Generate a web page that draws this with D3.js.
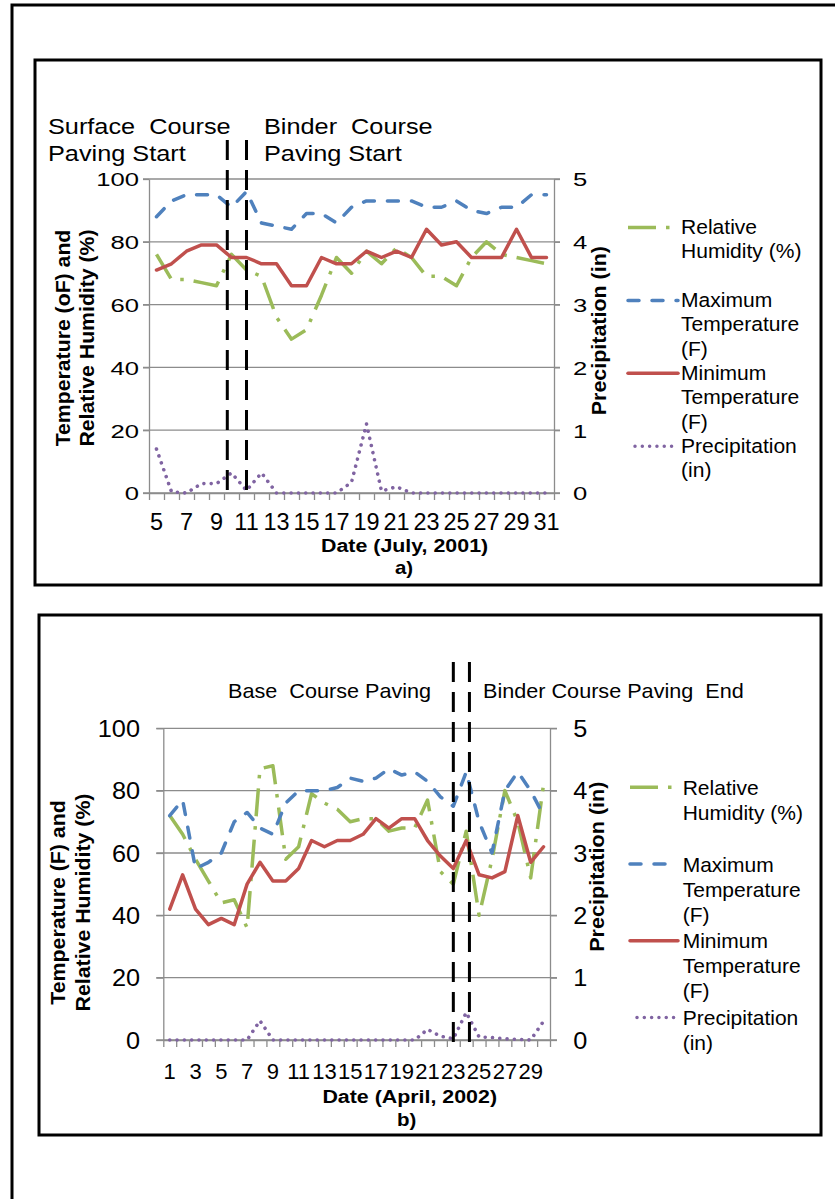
<!DOCTYPE html>
<html>
<head>
<meta charset="utf-8">
<script src="https://cdn.jsdelivr.net/npm/d3@7"></script>
<style>
  body { margin: 0; background: #fff; }
  svg { display: block; }
  text { white-space: pre; }
</style>
</head>
<body>
<svg id="fig" width="835" height="1199"></svg>
<script>
// ---------- July 2001 (surface / binder course) ----------
const julyDays = [5, 6, 7, 8, 9, 10, 11, 12, 13, 14, 15, 16, 17, 18, 19, 20, 21, 22, 23, 24, 25, 26, 27, 28, 29, 30, 31];
const julyHumidity = [76, 68, 68, 67, 66, 76, 71, 69, 56, 49, 52, 63, 75, 70, 77, 73, 78, 75, 69, 69, 66, 75, 80, 76, 75, 74, 73];
const julyMaxTemp  = [88, 93, 95, 95, 95, 91, 96, 86, 85, 84, 89, 89, 86, 91, 93, 93, 93, 93, 91, 91, 93, 90, 89, 91, 91, 95, 95];
const julyMinTemp  = [71, 73, 77, 79, 79, 75, 75, 73, 73, 66, 66, 75, 73, 73, 77, 75, 77, 75, 84, 79, 80, 75, 75, 75, 84, 75, 75];
const julyPrecip   = [0.70, 0.02, 0, 0.15, 0.15, 0.32, 0.04, 0.32, 0, 0, 0, 0, 0, 0.17, 1.1, 0.03, 0.1, 0, 0, 0, 0, 0, 0, 0, 0, 0, 0];
const julyMarkers  = [9.72, 11];
const julyTickDays = [5, 7, 9, 11, 13, 15, 17, 19, 21, 23, 25, 27, 29, 31];
const julyNotes    = [["Surface  Course", "Paving Start"], ["Binder  Course", "Paving Start"]];

// ---------- April 2002 (base / binder course) ----------
const aprilDays = [1, 2, 3, 4, 5, 6, 7, 8, 9, 10, 11, 12, 13, 14, 15, 16, 17, 18, 19, 20, 21, 22, 23, 24, 25, 26, 27, 28, 29, 30];
const aprilHumidity = [72, 66, 58, 51, 44, 45, 36, 87, 88, 58, 62, 79, 76, 74, 70, 71, 71, 67, 68, 68, 77, 54, 50, 67, 40, 58, 80, 70, 52, 82];
const aprilMaxTemp  = [72, 77, 55, 57, 60, 70, 73, 68, 66, 76, 80, 80, 80, 81, 84, 83, 84, 87, 85, 86, 83, 78, 75, 86, 70, 60, 80, 86, 80, 72];
const aprilMinTemp  = [42, 53, 42, 37, 39, 37, 50, 57, 51, 51, 55, 64, 62, 64, 64, 66, 71, 68, 71, 71, 64, 59, 55, 64, 53, 52, 54, 72, 57, 62];
const aprilPrecip   = [0, 0, 0, 0, 0, 0, 0, 0.31, 0, 0, 0, 0, 0, 0, 0, 0, 0, 0, 0, 0, 0.17, 0.06, 0.02, 0.44, 0.05, 0.04, 0.02, 0.01, 0, 0.3];
const aprilMarkers  = [23, 24.25];
const aprilTickDays = [1, 3, 5, 7, 9, 11, 13, 15, 17, 19, 21, 23, 25, 27, 29];
const aprilNotes    = [["Base  Course Paving"], ["Binder Course Paving  End"]];

// ---------- shared axis ticks and legend ----------
const leftTicks  = [0, 20, 40, 60, 80, 100];
const rightTicks = [0, 1, 2, 3, 4, 5];
const legendLabels = [
  ["Relative", "Humidity (%)"],
  ["Maximum", "Temperature", "(F)"],
  ["Minimum", "Temperature", "(F)"],
  ["Precipitation", "(in)"]
];

const FONT = "'Liberation Sans', Arial, Helvetica, sans-serif";
const GRID = "#8c8c8c";

// line styles: humidity, max temp, min temp, precipitation
const STYLES = [
  { color: "#9bbb59", dash: "28,10,3.5,10", cap: "butt" },
  { color: "#4f81bd", dash: "11,13", cap: "round" },
  { color: "#c0504d", dash: null, cap: "round" },
  { color: "#8064a2", dash: "0.01,7.3", cap: "round" }
];

const svg = d3.select("#fig");

function txt(g, x, y, s, o) {
  o = o || {};
  let tr = `translate(${x},${y})`;
  if (o.rot) tr += ` rotate(${o.rot})`;
  tr += ` scale(${o.sx || 1},1)`;
  return g.append("text")
    .attr("transform", tr)
    .attr("font-family", FONT)
    .attr("font-size", o.size || 20)
    .attr("font-weight", o.bold ? "bold" : null)
    .attr("text-anchor", o.anchor || "start")
    .attr("fill", "#000")
    .text(s);
}

// outer frame
svg.append("rect")
  .attr("x", 12).attr("y", 5).attr("width", 900).attr("height", 1300)
  .attr("fill", "none").attr("stroke", "#000").attr("stroke-width", 3);

function panel(P) {
  const g = svg.append("g");

  g.append("rect")
    .attr("x", P.box[0]).attr("y", P.box[1]).attr("width", P.box[2]).attr("height", P.box[3])
    .attr("fill", "#fff").attr("stroke", "#000").attr("stroke-width", 3);

  const n = P.days.length;
  const x = d3.scaleBand().domain(P.days).range([P.left, P.right]).padding(0);
  const xb = d3.scaleLinear().domain([0, n]).range([P.left, P.right]);
  const y = d3.scaleLinear().domain([0, 100]).range([P.bottom, P.top]);
  const y2 = d3.scaleLinear().domain([0, 5]).range([P.bottom, P.top]);
  const cx = d => x(d) + x.bandwidth() / 2;

  // horizontal gridlines (run across the tick marks on both sides)
  g.append("g").selectAll("line").data(leftTicks).join("line")
    .attr("x1", P.left - P.tick).attr("x2", P.right + P.tick)
    .attr("y1", d => y(d)).attr("y2", d => y(d))
    .attr("stroke", GRID).attr("stroke-width", 1.3);

  // left value axis
  const axL = g.append("g").attr("transform", `translate(${P.left},0)`)
    .call(d3.axisLeft(y).tickValues(leftTicks).tickFormat(d3.format("d")).tickSize(P.tick).tickSizeOuter(0));
  axL.attr("font-family", FONT).attr("font-size", P.yLab.size);
  axL.select(".domain").attr("stroke", GRID).attr("stroke-width", 1.3);
  axL.selectAll(".tick line").attr("stroke", GRID).attr("stroke-width", 1.3);
  axL.selectAll(".tick text").attr("x", 0).attr("dy", null).attr("y", 0)
    .attr("transform", `translate(${-P.yLab.off},${P.yLab.dy}) scale(${P.yLab.sx},1)`);

  // right precipitation axis
  const axR = g.append("g").attr("transform", `translate(${P.right},0)`)
    .call(d3.axisRight(y2).tickValues(rightTicks).tickFormat(d3.format("d")).tickSize(P.tick).tickSizeOuter(0));
  axR.attr("font-family", FONT).attr("font-size", P.yLab.size);
  axR.select(".domain").attr("stroke", GRID).attr("stroke-width", 1.3);
  axR.selectAll(".tick line").attr("stroke", GRID).attr("stroke-width", 1.3);
  axR.selectAll(".tick text").attr("x", 0).attr("dy", null).attr("y", 0)
    .attr("transform", `translate(${P.y2Off},${P.yLab.dy}) scale(${P.yLab.sx},1)`);

  // category axis: tick marks at category boundaries
  const axB = g.append("g").attr("transform", `translate(0,${P.bottom})`)
    .call(d3.axisBottom(xb).tickValues(d3.range(n + 1)).tickFormat(() => "").tickSize(P.xTick).tickSizeOuter(0));
  axB.select(".domain").attr("stroke", GRID).attr("stroke-width", 1.3);
  axB.selectAll(".tick line").attr("stroke", GRID).attr("stroke-width", 1.3);

  // category labels centred in their slots
  const axT = g.append("g").attr("transform", `translate(0,${P.bottom})`)
    .call(d3.axisBottom(x).tickValues(P.tickDays).tickSize(0));
  axT.attr("font-family", FONT).attr("font-size", P.xLab.size);
  axT.select(".domain").remove();
  axT.selectAll(".tick text").attr("dy", null).attr("y", P.xLab.dy)
    .attr("transform", `scale(${P.xLab.sx},1)`);

  // series
  const temps = [P.humidity, P.maxTemp, P.minTemp];
  temps.forEach((vals, i) => {
    const line = d3.line().x((d, j) => cx(P.days[j])).y(d => y(d));
    g.append("path").datum(vals).attr("d", line)
      .attr("fill", "none").attr("stroke", STYLES[i].color).attr("stroke-width", 3.5)
      .attr("stroke-dasharray", STYLES[i].dash).attr("stroke-linecap", STYLES[i].cap)
      .attr("stroke-linejoin", "round");
  });
  const pLine = d3.line().x((d, j) => cx(P.days[j])).y(d => y2(d));
  g.append("path").datum(P.precip).attr("d", pLine)
    .attr("fill", "none").attr("stroke", STYLES[3].color).attr("stroke-width", 3.6)
    .attr("stroke-dasharray", STYLES[3].dash).attr("stroke-linecap", "round");

  // paving start/end markers
  g.append("g").selectAll("line").data(P.markers).join("line")
    .attr("x1", d => xb(d - P.days[0] + 0.5)).attr("x2", d => xb(d - P.days[0] + 0.5))
    .attr("y1", P.markerY[0]).attr("y2", P.markerY[1])
    .attr("stroke", "#000").attr("stroke-width", 3).attr("stroke-dasharray", "20,10");

  // annotations
  P.notes.forEach((lines, i) => {
    lines.forEach((s, j) => txt(g, P.noteX[i], P.noteY + j * P.noteLine, s, { size: P.noteSize, sx: P.noteSx }));
  });

  // axis titles
  txt(g, P.xTitle[0], P.xTitle[1], P.xTitleText, { size: 18.6, bold: true, anchor: "middle", sx: 1.15 });
  txt(g, P.sub[0], P.sub[1], P.subText, { size: 18.6, bold: true, anchor: "middle", sx: 1.1 });
  P.yTitleText.forEach((s, j) =>
    txt(g, P.yTitle.x[j], P.yTitle.cy, s, { size: P.yTitle.size, bold: true, anchor: "middle", rot: -90, sx: P.yTitle.sx }));
  txt(g, P.y2Title.x, P.y2Title.cy, "Precipitation (in)", { size: P.y2Title.size, bold: true, anchor: "middle", rot: -90, sx: P.y2Title.sx });

  // legend
  legendLabels.forEach((lines, i) => {
    const base = P.leg.top + i * P.leg.step;
    const ly = base - P.leg.lineOff;
    const x1 = i === 3 ? P.leg.x1 + 7 : P.leg.x1;
    g.append("line").attr("x1", x1).attr("x2", P.leg.x2).attr("y1", ly).attr("y2", ly)
      .attr("stroke", STYLES[i].color).attr("stroke-width", 3.5)
      .attr("stroke-dasharray", STYLES[i].dash).attr("stroke-linecap", STYLES[i].cap);
    lines.forEach((s, j) => txt(g, P.leg.tx, base + j * P.leg.line, s, { size: P.leg.size, sx: P.leg.sx }));
  });
}

panel({
  box: [35, 60, 786, 525],
  days: julyDays, humidity: julyHumidity, maxTemp: julyMaxTemp, minTemp: julyMinTemp, precip: julyPrecip,
  tickDays: julyTickDays, markers: julyMarkers, markerY: [140, 497],
  left: 149, right: 554, top: 179, bottom: 493, tick: 6, xTick: 7,
  yLab: { size: 19, sx: 1.35, off: 10, dy: 6.8 }, y2Off: 19,
  xLab: { size: 23, sx: 1.02, dy: 37 },
  notes: julyNotes, noteX: [48, 264], noteY: 134, noteLine: 27, noteSize: 22, noteSx: 1.15,
  xTitleText: "Date (July, 2001)", xTitle: [404.6, 552], subText: "a)", sub: [404, 574],
  yTitleText: ["Temperature (oF) and", "Relative Humidity (%)"],
  yTitle: { x: [70, 94], cy: 338, size: 19.5, sx: 1.09 },
  y2Title: { x: 606, cy: 330.7, size: 19.5, sx: 1.1 },
  leg: { tx: 681, x1: 628, x2: 678, top: 234, step: 72.9, line: 24.4, size: 19.5, sx: 1.08, lineOff: 6.5 }
});

panel({
  box: [39, 615, 782, 520],
  days: aprilDays, humidity: aprilHumidity, maxTemp: aprilMaxTemp, minTemp: aprilMinTemp, precip: aprilPrecip,
  tickDays: aprilTickDays, markers: aprilMarkers, markerY: [662, 1046],
  left: 163.3, right: 550, top: 728.3, bottom: 1040, tick: 7, xTick: 7,
  yLab: { size: 23, sx: 1.1, off: 23.3, dy: 8.2 }, y2Off: 23.3,
  xLab: { size: 22, sx: 1, dy: 39.3 },
  notes: aprilNotes, noteX: [228, 483], noteY: 698, noteLine: 25, noteSize: 20.5, noteSx: 1.055,
  xTitleText: "Date (April, 2002)", xTitle: [409.7, 1103.3], subText: "b)", sub: [406.7, 1126],
  yTitleText: ["Temperature (F) and", "Relative Humidity (%)"],
  yTitle: { x: [65, 90], cy: 902.5, size: 20, sx: 1.066 },
  y2Title: { x: 604, cy: 866.7, size: 20, sx: 1.08 },
  leg: { tx: 682.7, x1: 630, x2: 678, top: 795, step: 76.7, line: 25, size: 21, sx: 1.0, lineOff: 7.7 }
});
</script>
</body>
</html>
